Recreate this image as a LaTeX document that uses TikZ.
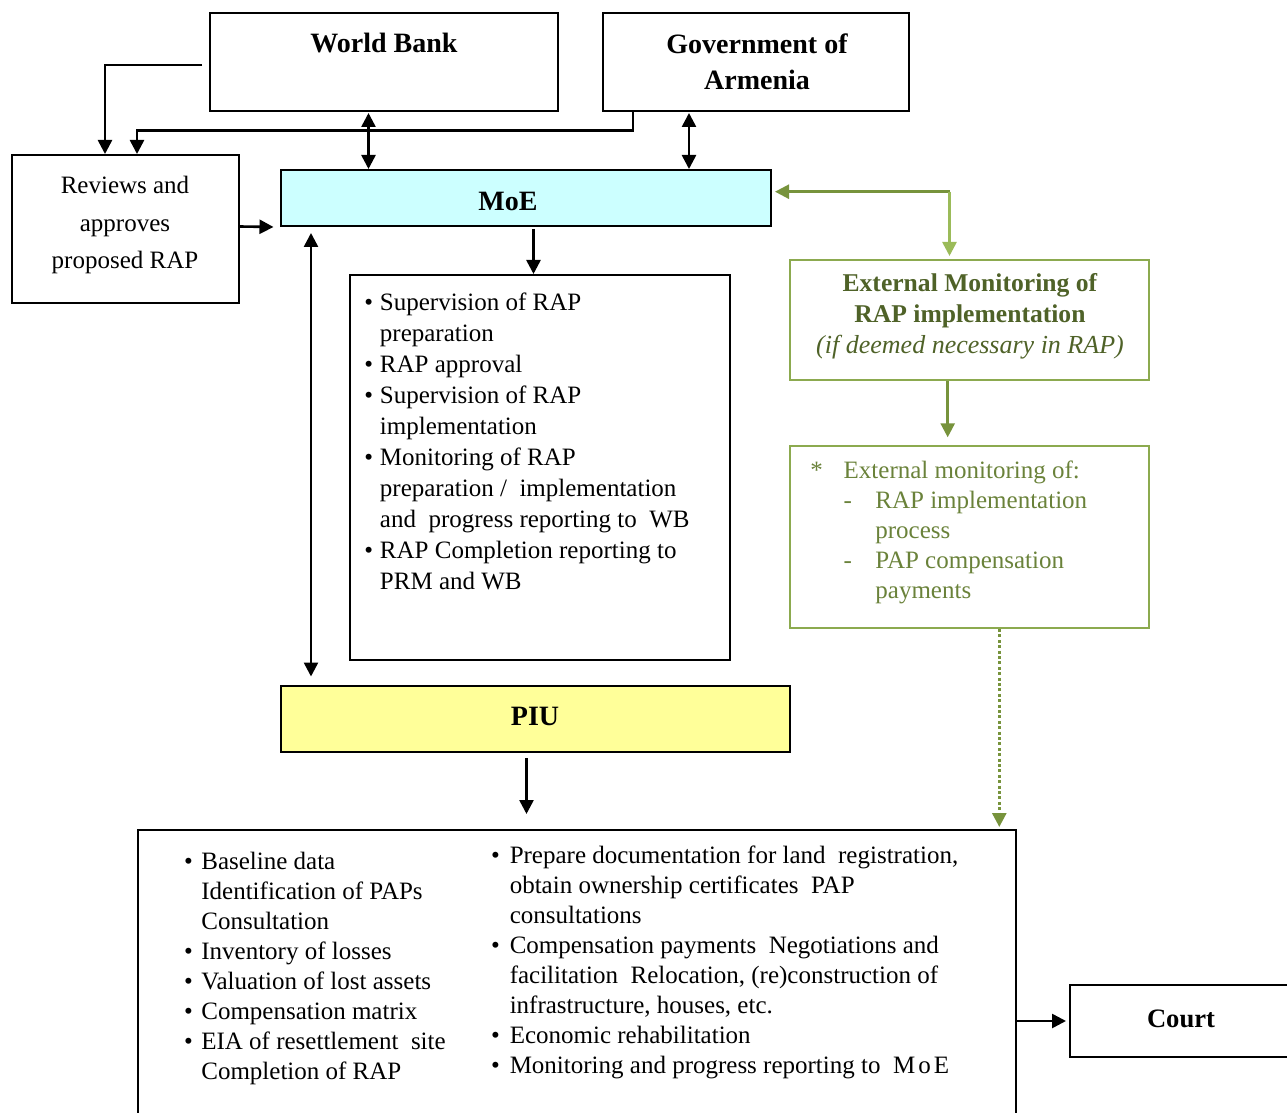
\documentclass[tikz,border=0pt]{standalone}
\usepackage{fontspec}
\setmainfont{Liberation Serif}
\usetikzlibrary{arrows.meta,calc}
\definecolor{moefill}{HTML}{CCFFFF}
\definecolor{piufill}{HTML}{FFFF99}
\definecolor{gbord}{HTML}{8CAA4F}
\definecolor{ghead}{HTML}{4F6228}
\definecolor{gtext}{HTML}{6A823A}
\definecolor{gdark}{HTML}{77933C}
\definecolor{glight}{HTML}{9BBB59}
\tikzset{
  sz/.style 2 args={minimum width=#1*0.5pt, minimum height=#2*0.5pt},
  box/.style={draw=black, line width=1pt, inner sep=0pt},
  gbox/.style={draw=gbord, line width=1pt, inner sep=0pt},
  txt/.style={inner sep=0pt, anchor=base},
  ltxt/.style={inner sep=0pt, anchor=base west},
  tip/.tip={Triangle[length=7pt,width=7pt]},
  arr/.style={line width=1.3pt, -tip},
  darr/.style={line width=1.3pt, tip-tip},
  garr/.style={line width=1.3pt, -tip},
  title/.style={font=\fontsize{14}{18}\selectfont\bfseries},
}
\begin{document}
\begin{tikzpicture}[x=0.5pt,y=-0.5pt]
\useasboundingbox (0,0) rectangle (1287,1113);
\clip (0,0) rectangle (1287,1113);
% boxes
\node[box, sz={348}{98}] (wb) at (384,62) {};
\node[box, sz={306}{98}] (goa) at (756,62) {};
\node[box, sz={227}{148}] (rev) at (125.5,229) {};
\node[box, sz={490}{56}, fill=moefill] (moe) at (526,198) {};
\node[box, sz={380}{385}] (moelist) at (540,467.5) {};
\node[gbox, sz={359}{120}] (ext) at (969.5,320) {};
\node[gbox, sz={359}{182}] (extlist) at (969.5,537) {};
\node[box, sz={509}{66}, fill=piufill] (piu) at (535.5,719) {};
\node[box, sz={878}{300}] (bot) at (577,980) {};
\node[box, sz={222}{72}] (court) at (1181,1021) {};
% texts
\node[txt, title] (wbt) at (384,53) {World Bank};
\node[txt, title] (goat) at (757,53.3)
  {\begin{tabular}[t]{@{}c@{}}Government of\\Armenia\end{tabular}};
\node[txt, title] (moet) at (508,210.5) {MoE};
\node[txt, title] (piut) at (535,725.5) {PIU};
\node[txt, font=\fontsize{13.3}{16}\selectfont\bfseries] (courtt) at (1181,1027.5) {Court};
\node[txt, font=\fontsize{12.5}{18.75}\selectfont] (revt) at (125,194)
  {\begin{tabular}[t]{@{}c@{}}Reviews and\\approves\\proposed RAP\end{tabular}};
\node[ltxt, font=\fontsize{12.5}{15.55}\selectfont] (moelt) at (364,310)
  {\begin{tabular}[t]{@{}l@{\hspace{3.4pt}}l@{}}
  \textbullet & Supervision of RAP\\
   & preparation\\
  \textbullet & RAP approval\\
  \textbullet & Supervision of RAP\\
   & implementation\\
  \textbullet & Monitoring of RAP\\
   & preparation /~ implementation\\
   & and~ progress reporting to~ WB\\
  \textbullet & RAP Completion reporting to\\
   & PRM and WB
  \end{tabular}};
\node[txt, text=ghead, font=\fontsize{12.8}{15.4}\selectfont] (extt) at (970,292)
  {\begin{tabular}[t]{@{}c@{}}\textbf{External Monitoring of}\\
   \textbf{RAP implementation}\\
   {\fontsize{13}{15.4}\selectfont\itshape (if deemed necessary in RAP)}\end{tabular}};
\node[ltxt, text=gtext, font=\fontsize{12.5}{15}\selectfont] (extlt) at (810,478)
  {\begin{tabular}[t]{@{}l@{}}
  \makebox[16.65pt][l]{*}External monitoring of:\\
  \hspace{16.65pt}\makebox[15.85pt][l]{-}RAP implementation\\
  \hspace{32.5pt}process\\
  \hspace{16.65pt}\makebox[15.85pt][l]{-}PAP compensation\\
  \hspace{32.5pt}payments
  \end{tabular}};
\node[ltxt, font=\fontsize{12.5}{15}\selectfont] (botl) at (183.6,869.3)
  {\begin{tabular}[t]{@{}l@{\hspace{4.3pt}}l@{}}
  \textbullet & Baseline data\\
   & Identification of PAPs\\
   & Consultation\\
  \textbullet & Inventory of losses\\
  \textbullet & Valuation of lost assets\\
  \textbullet & Compensation matrix\\
  \textbullet & EIA of resettlement~ site\\
   & Completion of RAP
  \end{tabular}};
\node[ltxt, font=\fontsize{12.5}{15}\selectfont] (botr) at (490.6,863)
  {\begin{tabular}[t]{@{}l@{\hspace{5pt}}l@{}}
  \textbullet & Prepare documentation for land~ registration,\\
   & obtain ownership certificates~ PAP\\
   & consultations\\
  \textbullet & Compensation payments~ Negotiations and\\
   & facilitation~ Relocation, (re)construction of\\
   & infrastructure, houses, etc.\\
  \textbullet & Economic rehabilitation\\
  \textbullet & Monitoring and progress reporting to~ M\kern1.5pt o\kern1.5pt E
  \end{tabular}};
% connectors
\draw[arr] ($(wb.west)+(-7,3)$) -| ($(rev.north)+(-20.5,0)$);
\draw[arr] ($(goa.south)+(-123,0)$) -- ++(0,18.5) -| ($(rev.north)+(11.5,0)$);
\draw[darr] ($(wb.south)+(-15.5,1)$) -- ($(moe.north)+(-157.5,0)$);
\draw[darr] ($(goa.south)+(-67,1)$) -- ($(moe.north)+(163,0)$);
\draw[arr] ($(rev.east)+(0,-2.5)$) -- ($(moe.south west)+(-6.5,0)$);
\draw[darr] ($(moe.south west)+(31,6)$) -- ($(piu.north west)+(31,-8.5)$);
\draw[arr] ($(moe.south)+(7.5,2)$) -- ($(moelist.north)+(-6.5,0)$);
\coordinate (ga) at ($(ext.north)+(-20,-3)$);
\coordinate (gm) at ($(moe.east)+(3,-6.3)$);
\draw[garr, gdark] (ga |- gm) -- (gm);
\draw[garr, glight] (ga |- gm) -- (ga);
\draw[garr, gdark] ($(ext.south)+(-21.8,0)$) -- ($(extlist.north)+(-21.8,-7.7)$);
\draw[garr, gdark, line width=1.4pt, dash pattern=on 1.5pt off 1.2pt] ($(extlist.south)+(29.8,0)$) -- ($(bot.north)+(422.3,-2)$);
\draw[arr] ($(piu.south)+(-9,5.3)$) -- ($(bot.north)+(-50.5,-15)$);
\draw[arr] (bot.east |- court.west) -- ($(court.west)+(-3,0)$);
\end{tikzpicture}
\end{document}
